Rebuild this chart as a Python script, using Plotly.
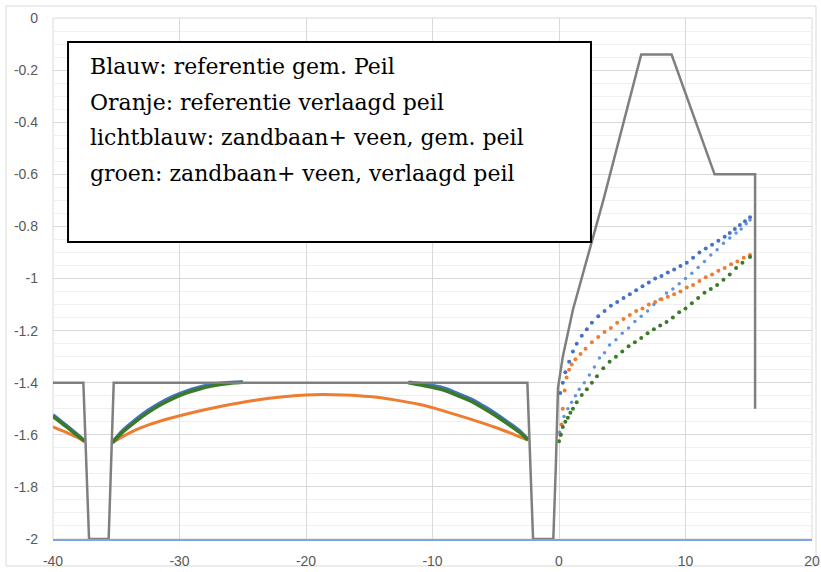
import plotly.graph_objects as go

# ---------------- data ----------------
profile_x = [-40, -37.6, -37.15, -35.6, -35.2, -2.5, -2.05, -0.45, -0.25, -0.08, 0.3, 1.1, 3.5, 6.5, 8.9, 12.3, 15.5, 15.5]
profile_y = [-1.4, -1.4, -2.0, -2.0, -1.4, -1.4, -2.0, -2.0, -1.72, -1.42, -1.30, -1.12, -0.70, -0.14, -0.14, -0.60, -0.60, -1.50]

# left ditch-to-ditch stretches (dense markers in the original, look like lines)
green_a_x = [-40, -39.5, -39, -38.5, -38, -37.5]
green_a_y = [-1.53, -1.548, -1.567, -1.586, -1.605, -1.625]
orange_a_y = [-1.57, -1.58, -1.59, -1.60, -1.612, -1.625]
blue_a_y = [-1.524, -1.543, -1.562, -1.582, -1.602, -1.624]

green_b1_x = [-35.3, -34.5, -33.5, -32.5, -31.5, -30.5, -29.5, -28.5, -27.5, -26.5, -25.5, -25.0]
green_b1_y = [-1.63, -1.59, -1.55, -1.515, -1.485, -1.46, -1.44, -1.425, -1.413, -1.405, -1.40, -1.398]
blue_b1_y = [-1.628, -1.584, -1.543, -1.507, -1.477, -1.452, -1.433, -1.418, -1.407, -1.401, -1.398, -1.397]

green_b2_x = [-11.9, -11, -10, -9, -8, -7, -6, -5, -4, -3, -2.45]
green_b2_y = [-1.40, -1.408, -1.418, -1.43, -1.45, -1.47, -1.497, -1.527, -1.56, -1.595, -1.62]
blue_b2_y = [-1.398, -1.403, -1.411, -1.422, -1.442, -1.462, -1.489, -1.519, -1.553, -1.59, -1.618]

orange_b_x = [-35.3, -34.5, -33.5, -32.5, -31.5, -30, -28, -26, -24, -22, -20, -18.7, -17, -15, -13, -11, -9, -7, -5, -3.5, -2.45]
orange_b_y = [-1.63, -1.607, -1.582, -1.563, -1.547, -1.527, -1.504, -1.484, -1.467, -1.455, -1.447, -1.445, -1.447, -1.453, -1.466, -1.484, -1.51, -1.54, -1.572, -1.60, -1.62]

# right of the polder ditch (dotted markers)
blue_r_x = [0.1, 0.3, 0.5, 0.8, 1.1, 1.4, 1.8, 2.2, 2.6, 3.1, 3.6, 4.1, 4.6, 5.1, 5.6, 6.1, 6.6, 7.1, 7.6, 8.1, 8.6, 9.1, 9.6, 10.1, 10.6, 11.1, 11.6, 12.1, 12.6, 13.1, 13.5, 13.9, 14.3, 14.7, 15.1]
blue_r_y = [-1.44, -1.40, -1.36, -1.32, -1.28, -1.25, -1.22, -1.195, -1.17, -1.145, -1.125, -1.105, -1.09, -1.075, -1.06, -1.045, -1.03, -1.015, -1.0, -0.99, -0.977, -0.965, -0.952, -0.94, -0.92, -0.90, -0.885, -0.87, -0.855, -0.84, -0.825, -0.81, -0.795, -0.78, -0.765]

lblue_r_x = [0.05, 0.2, 0.4, 0.7, 1.0, 1.3, 1.6, 2.0, 2.4, 2.8, 3.2, 3.6, 4.0, 4.5, 5.0, 5.5, 6.0, 6.5, 7.0, 7.5, 8.0, 8.5, 9.0, 9.5, 10.0, 10.5, 11.0, 11.5, 12.0, 12.5, 13.0, 13.5, 14.0, 14.4, 14.8, 15.1]
lblue_r_y = [-1.59, -1.56, -1.53, -1.50, -1.475, -1.45, -1.425, -1.40, -1.37, -1.34, -1.305, -1.285, -1.255, -1.235, -1.21, -1.19, -1.165, -1.145, -1.125, -1.10, -1.08, -1.056, -1.04, -1.02, -1.0, -0.98, -0.958, -0.935, -0.91, -0.89, -0.865, -0.845, -0.825, -0.81, -0.79, -0.775]

orange_r_x = [0.1, 0.2, 0.3, 0.45, 0.6, 0.8, 1.0, 1.3, 1.7, 2.1, 2.6, 3.1, 3.6, 4.1, 4.6, 5.1, 5.6, 6.1, 6.6, 7.1, 7.6, 8.1, 8.6, 9.1, 9.6, 10.1, 10.6, 11.1, 11.6, 12.1, 12.6, 13.1, 13.6, 14.1, 14.6, 15.1]
orange_r_y = [-1.60, -1.56, -1.50, -1.43, -1.38, -1.35, -1.33, -1.31, -1.29, -1.27, -1.245, -1.225, -1.205, -1.19, -1.17, -1.155, -1.14, -1.125, -1.115, -1.10, -1.09, -1.08, -1.07, -1.06, -1.05, -1.035, -1.025, -1.01, -0.995, -0.985, -0.97, -0.96, -0.945, -0.935, -0.92, -0.91]

green_r_x = [0.0, 0.15, 0.3, 0.5, 0.7, 0.9, 1.1, 1.4, 1.8, 2.2, 2.6, 3.0, 3.5, 4.0, 4.5, 5.0, 5.5, 6.0, 6.5, 7.0, 7.5, 8.0, 8.5, 9.0, 9.5, 10.0, 10.5, 11.0, 11.5, 12.0, 12.5, 13.0, 13.5, 14.0, 14.5, 15.1]
green_r_y = [-1.625, -1.60, -1.57, -1.55, -1.535, -1.515, -1.50, -1.475, -1.447, -1.425, -1.40, -1.375, -1.345, -1.32, -1.30, -1.28, -1.26, -1.245, -1.228, -1.21, -1.195, -1.18, -1.167, -1.15, -1.13, -1.115, -1.095, -1.075, -1.055, -1.04, -1.025, -1.005, -0.985, -0.96, -0.94, -0.917]

x_ticks = [-40, -30, -20, -10, 0, 10, 20]
x_tick_labels = ["-40", "-30", "-20", "-10", "0", "10", "20"]
y_ticks = [0, -0.2, -0.4, -0.6, -0.8, -1, -1.2, -1.4, -1.6, -1.8, -2]
y_tick_labels = ["0", "-0.2", "-0.4", "-0.6", "-0.8", "-1", "-1.2", "-1.4", "-1.6", "-1.8", "-2"]

note_lines = [
    "Blauw: referentie gem. Peil",
    "Oranje: referentie verlaagd peil",
    "lichtblauw: zandbaan+ veen, gem. peil",
    "groen: zandbaan+ veen, verlaagd peil",
]

# ---------------- styling ----------------
BLUE = "#4472C4"
LBLUE = "#6193DC"
ORANGE = "#ED7D31"
GREEN = "#3B7A27"
GRAY = "#7F7F7F"

fig = go.Figure()

def line(x, y, color, width):
    fig.add_trace(go.Scatter(x=x, y=y, mode="lines", line=dict(color=color, width=width, shape="spline"),
                             showlegend=False, hoverinfo="skip"))

def dots(x, y, color, size):
    fig.add_trace(go.Scatter(x=x, y=y, mode="markers", marker=dict(color=color, size=size, line=dict(width=0)),
                             showlegend=False, hoverinfo="skip"))

# left parts
line(green_a_x, orange_a_y, ORANGE, 3)
line(orange_b_x, orange_b_y, ORANGE, 3)
line(green_a_x, blue_a_y, BLUE, 3.5)
line(green_b1_x, blue_b1_y, BLUE, 3.5)
line(green_b2_x, blue_b2_y, BLUE, 3.5)
line(green_a_x, green_a_y, GREEN, 3.5)
line(green_b1_x, green_b1_y, GREEN, 3.5)
line(green_b2_x, green_b2_y, GREEN, 3.5)

# right parts
dots(blue_r_x, blue_r_y, BLUE, 4)
dots(lblue_r_x, lblue_r_y, LBLUE, 3.5)
dots(orange_r_x, orange_r_y, ORANGE, 4)
dots(green_r_x, green_r_y, GREEN, 4)

# profile
fig.add_trace(go.Scatter(x=profile_x, y=profile_y, mode="lines", line=dict(color=GRAY, width=2.5),
                         showlegend=False, hoverinfo="skip"))

tick_font = dict(family="Liberation Sans, Arial, sans-serif", size=14, color="#595959")

fig.update_xaxes(range=[-40, 20], tickmode="array", tickvals=x_ticks, ticktext=x_tick_labels,
                 showgrid=True, gridcolor="#D9D9D9", gridwidth=1, zeroline=False, automargin=False,
                 showline=True, linecolor="#7EA6E3", linewidth=2, layer="below traces",
                 ticks="", ticklabelstandoff=8, tickfont=tick_font)
fig.update_yaxes(range=[-2, 0], tickmode="array", tickvals=y_ticks, ticktext=y_tick_labels,
                 showgrid=True, gridcolor="#D9D9D9", gridwidth=1, zeroline=False, showline=False,
                 automargin=False,
                 minor=dict(dtick=0.05, tick0=0, showgrid=True, gridcolor="#F0F0F0", gridwidth=1),
                 ticks="", ticklabelstandoff=14, tickfont=tick_font)

# outer chart border
fig.add_shape(type="rect", xref="paper", yref="paper", x0=-0.0619, x1=1.0053, y0=-0.0518, y1=1.023,
              line=dict(color="#D9D9D9", width=1), fillcolor="rgba(0,0,0,0)", layer="below")
# plot-area edges
fig.add_shape(type="rect", xref="paper", yref="paper", x0=0, x1=1, y0=0, y1=1,
              line=dict(color="#D9D9D9", width=1), fillcolor="rgba(0,0,0,0)", layer="below")

# text box
fig.add_shape(type="rect", xref="paper", yref="paper", x0=0.0198, x1=0.7088, y0=0.570, y1=0.954,
              line=dict(color="#000000", width=2), fillcolor="white", layer="above")

line_px = [67, 102, 138, 173]
for txt, py in zip(note_lines, line_px):
    fig.add_annotation(xref="paper", yref="paper", x=(88 - 53) / 759, y=(539 - py) / 521,
                       xanchor="left", yanchor="middle", text=txt, showarrow=False,
                       font=dict(family="DejaVu Serif, serif", size=22, color="#000000"))

fig.update_layout(width=821, height=572, margin=dict(l=53, r=9, t=18, b=33, autoexpand=False),
                  paper_bgcolor="white", plot_bgcolor="white")

fig.write_html("out.html", config={"displayModeBar": False},
               post_script="document.body.style.margin='0px';document.body.style.overflow='hidden';")
